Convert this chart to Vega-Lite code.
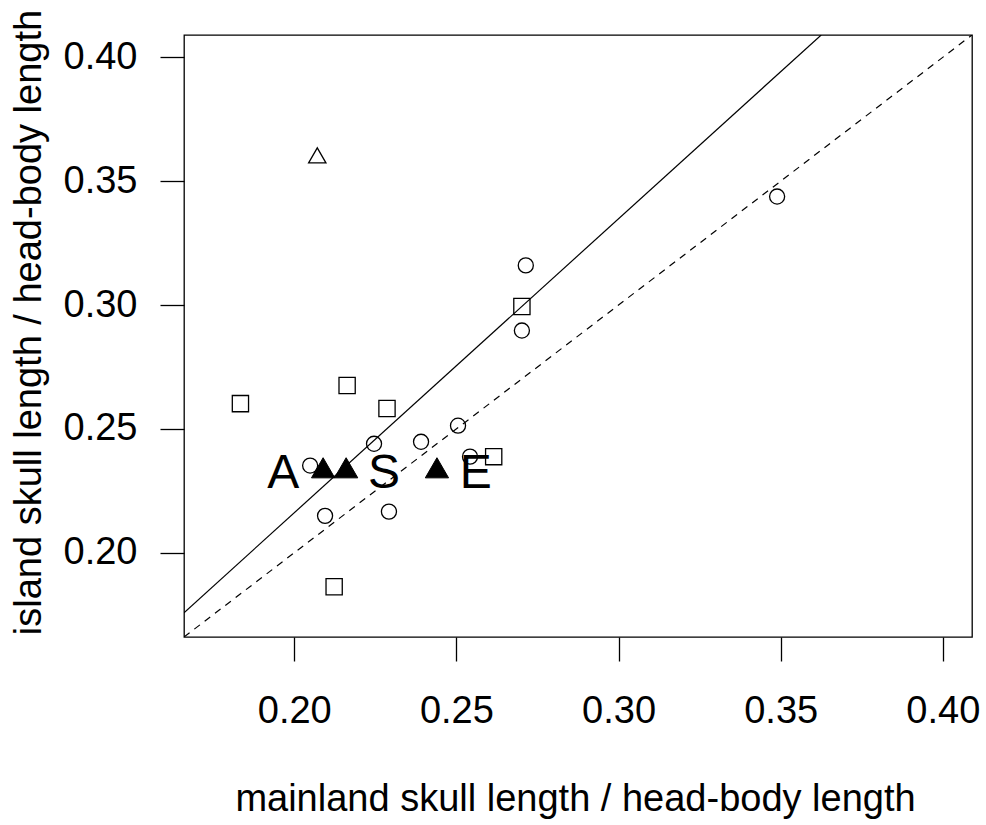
{
  "$schema": "https://vega.github.io/schema/vega-lite/v6.json",
  "autosize": "none",
  "padding": {"left": 184, "top": 35, "right": 14, "bottom": 188},
  "width": 788,
  "height": 602,
  "background": "white",
  "config": {
    "view": {"stroke": "black", "strokeWidth": 1.3},
    "axis": {
      "grid": false,
      "domain": false,
      "labelFont": "Liberation Sans",
      "labelFontSize": 38,
      "labelColor": "black",
      "titleFont": "Liberation Sans",
      "titleFontSize": 38,
      "titleFontWeight": "normal",
      "titleColor": "black",
      "tickColor": "black",
      "tickSize": 24,
      "tickWidth": 1.3
    }
  },
  "datasets": {
    "lines": [
      {"line": "one-to-one", "mx": 0.166, "iy": 0.166},
      {"line": "one-to-one", "mx": 0.409, "iy": 0.409},
      {"line": "fit", "mx": 0.166, "iy": 0.1758},
      {"line": "fit", "mx": 0.3625, "iy": 0.409}
    ],
    "points": [
      {"group": "circle", "mx": 0.2049, "iy": 0.2352},
      {"group": "circle", "mx": 0.2095, "iy": 0.2149},
      {"group": "circle", "mx": 0.2246, "iy": 0.2440},
      {"group": "circle", "mx": 0.2292, "iy": 0.2166},
      {"group": "circle", "mx": 0.2391, "iy": 0.2448},
      {"group": "circle", "mx": 0.2505, "iy": 0.2513},
      {"group": "circle", "mx": 0.2542, "iy": 0.2388},
      {"group": "circle", "mx": 0.2714, "iy": 0.3160},
      {"group": "circle", "mx": 0.2702, "iy": 0.2897},
      {"group": "circle", "mx": 0.3489, "iy": 0.3438},
      {"group": "square", "mx": 0.1834, "iy": 0.2602},
      {"group": "square", "mx": 0.2163, "iy": 0.2675},
      {"group": "square", "mx": 0.2286, "iy": 0.2582},
      {"group": "square", "mx": 0.2702, "iy": 0.2994},
      {"group": "square", "mx": 0.2615, "iy": 0.2388},
      {"group": "square", "mx": 0.2123, "iy": 0.1863},
      {"group": "open triangle", "mx": 0.2071, "iy": 0.3604}
    ],
    "filled": [
      {"mx": 0.2089, "iy": 0.2343},
      {"mx": 0.2160, "iy": 0.2343},
      {"mx": 0.2440, "iy": 0.2343}
    ],
    "labels": [
      {"label": "A", "mx": 0.1966, "iy": 0.2263},
      {"label": "S", "mx": 0.2277, "iy": 0.2263},
      {"label": "E", "mx": 0.2560, "iy": 0.2263}
    ]
  },
  "layer": [
    {
      "data": {"name": "lines"},
      "transform": [{"filter": "datum.line === 'one-to-one'"}],
      "mark": {"type": "line", "color": "black", "strokeWidth": 1.2, "strokeDash": [7, 6], "clip": true},
      "encoding": {
        "x": {"field": "mx", "type": "quantitative", "scale": {"domain": [0.166, 0.409], "nice": false, "zero": false},
              "axis": {"values": [0.2, 0.25, 0.3, 0.35, 0.4], "format": ".2f", "labelPadding": 31, "titlePadding": 50, "titleX": 391,
                       "title": "mainland skull length / head-body length"}},
        "y": {"field": "iy", "type": "quantitative", "scale": {"domain": [0.166, 0.409], "nice": false, "zero": false},
              "axis": {"values": [0.2, 0.25, 0.3, 0.35, 0.4], "format": ".2f", "labelPadding": 23, "titlePadding": 15, "titleY": 287,
                       "title": "island skull length / head-body length"}}
      }
    },
    {
      "data": {"name": "lines"},
      "transform": [{"filter": "datum.line === 'fit'"}],
      "mark": {"type": "line", "color": "black", "strokeWidth": 1.2, "clip": true},
      "encoding": {
        "x": {"field": "mx", "type": "quantitative"},
        "y": {"field": "iy", "type": "quantitative"}
      }
    },
    {
      "data": {"name": "points"},
      "mark": {"type": "point", "filled": false, "stroke": "black", "strokeWidth": 1.3, "opacity": 1},
      "encoding": {
        "x": {"field": "mx", "type": "quantitative"},
        "y": {"field": "iy", "type": "quantitative"},
        "shape": {"field": "group", "type": "nominal", "legend": null,
                  "scale": {"domain": ["circle", "square", "open triangle"], "range": ["circle", "square", "triangle-up"]}},
        "size": {"field": "group", "type": "nominal", "legend": null,
                 "scale": {"domain": ["circle", "square", "open triangle"], "range": [227, 300, 600]}}
      }
    },
    {
      "data": {"name": "filled"},
      "mark": {"type": "point", "shape": "triangle-up", "filled": true, "fill": "black", "stroke": "black", "strokeWidth": 1, "size": 540, "opacity": 1},
      "encoding": {
        "x": {"field": "mx", "type": "quantitative"},
        "y": {"field": "iy", "type": "quantitative"}
      }
    },
    {
      "data": {"name": "labels"},
      "mark": {"type": "text", "font": "Liberation Sans", "fontSize": 48, "color": "black", "align": "center", "baseline": "alphabetic"},
      "encoding": {
        "x": {"field": "mx", "type": "quantitative"},
        "y": {"field": "iy", "type": "quantitative"},
        "text": {"field": "label"}
      }
    }
  ]
}
